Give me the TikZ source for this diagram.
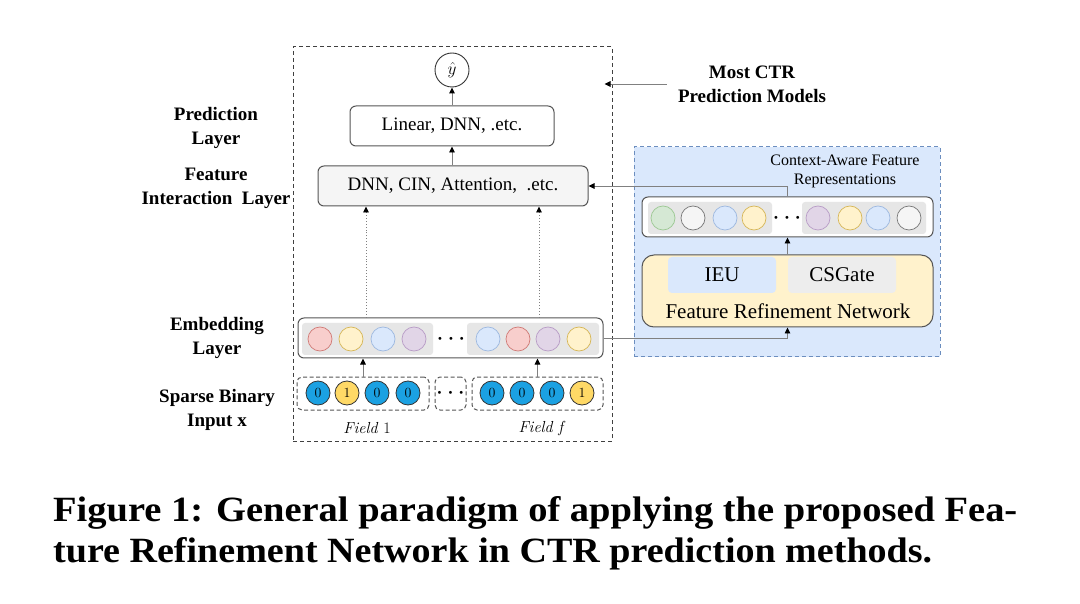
\documentclass[tikz,border=0pt]{standalone}
\usepackage{fontspec}
\newfontfamily\tnr{Liberation Serif}
\usetikzlibrary{arrows.meta}
\definecolor{rF}{HTML}{F8CECC}\definecolor{rD}{HTML}{D07A76}
\definecolor{yF}{HTML}{FFF2CC}\definecolor{yD}{HTML}{D6B656}
\definecolor{bF}{HTML}{DAE8FC}\definecolor{bD}{HTML}{9DB8E0}
\definecolor{pF}{HTML}{E1D5E7}\definecolor{pD}{HTML}{B89CC6}
\definecolor{gF}{HTML}{D5E8D4}\definecolor{gD}{HTML}{9CC893}
\definecolor{wF}{HTML}{F5F5F5}\definecolor{wD}{HTML}{777777}
\definecolor{binB}{HTML}{1BA1E2}\definecolor{binY}{HTML}{FFD966}
\definecolor{areaG}{HTML}{E6E6E6}
\definecolor{blueBox}{HTML}{DAE8FC}\definecolor{blueDash}{HTML}{6C8EBF}
\definecolor{edge}{HTML}{555555}
\begin{document}
\begin{tikzpicture}[x=1pt,y=-1pt,
  emb/.style={circle,minimum size=24pt,inner sep=0pt,line width=0.7pt},
  cr/.style={emb,fill=rF,draw=rD},
  cy/.style={emb,fill=yF,draw=yD},
  cb/.style={emb,fill=bF,draw=bD},
  cp/.style={emb,fill=pF,draw=pD},
  cg/.style={emb,fill=gF,draw=gD},
  cw/.style={emb,fill=wF,draw=wD},
  bin/.style={circle,minimum size=24pt,inner sep=0pt,draw=black!80,line width=0.8pt,font=\fontsize{14}{14}\selectfont},
  bb/.style={bin,fill=binB},
  by/.style={bin,fill=binY},
  area/.style={fill=areaG,rounded corners=3pt,inner sep=0pt},
  box/.style={draw=edge,rounded corners=6pt,line width=1pt,inner sep=0pt,font=\tnr\fontsize{19}{19}\selectfont},
  inbox/.style={draw=edge,dashed,dash pattern=on 4pt off 2.5pt,rounded corners=5pt,line width=1pt,inner sep=0pt,minimum height=33pt},
  lab/.style={font=\tnr\bfseries\fontsize{19}{24}\selectfont,align=center},
  conn/.style={draw=gray,line width=0.9pt,-{Triangle[length=6pt,width=5.5pt,color=black]}},
  dotconn/.style={conn,dotted},
  dots/.style={font=\fontsize{11}{11}\selectfont,inner sep=0pt}
]
\useasboundingbox (0,0) rectangle (1080,604);

% outer dashed box
\node[draw=black!75,dashed,dash pattern=on 4pt off 3pt,line width=1pt,minimum width=319pt,minimum height=394pt,inner sep=0pt] (outer) at (452.5,244) {};

% right blue box
\node[draw=blueDash,fill=blueBox,dashed,dash pattern=on 4pt off 3pt,line width=1pt,minimum width=306pt,minimum height=210pt,inner sep=0pt] (fbox) at (787,252) {};

% left labels
\node[lab] (lpred) at (216,128) {Prediction\\Layer};
\node[lab] (linter) at (216,188) {Feature\\Interaction~~Layer};
\node[lab] (lemb) at (217,338) {Embedding\\Layer};
\node[lab] (lsparse) at (217,410) {Sparse Binary\\Input x};
\node[lab] (most) at (752,84) {Most CTR\\Prediction Models};

% top part
\node[circle,draw=black!80,line width=0.9pt,minimum size=34pt,inner sep=0pt,font=\fontsize{18}{18}\selectfont] (yhat) at (452,70) {$\hat{y}$};
\node[box,minimum width=204pt,minimum height=40pt] (lin) at (452,126) {Linear, DNN, .etc.};
\node[box,fill=wF,minimum width=270pt,minimum height=40pt] (dnn) at (453,186) {DNN, CIN, Attention,\ \ .etc.};

% embedding layer
\node[box,fill=white,minimum width=305pt,minimum height=40pt] (emb) at (450.5,338) {};
\node[area,minimum width=131pt,minimum height=32pt] (gL) at (367.5,339) {};
\node[area,minimum width=132pt,minimum height=32pt] (gR) at (533,339) {};
\node[cr] (e1) at (320,339) {};
\node[cy] (e2) at (351,339) {};
\node[cb] (e3) at (383,339) {};
\node[cp] (e4) at (414,339) {};
\node[dots] (edots) at (451,339) {\textbullet\hspace{2.5pt}\textbullet\hspace{2.5pt}\textbullet};
\node[cb] (e5) at (488,339) {};
\node[cr] (e6) at (518,339) {};
\node[cp] (e7) at (548,339) {};
\node[cy] (e8) at (579,339) {};

% sparse input
\node[inbox,minimum width=132pt] (inL) at (363,393.5) {};
\node[inbox,minimum width=31pt] (inM) at (450.5,393.5) {};
\node[inbox,minimum width=131pt] (inR) at (537.5,393.5) {};
\node[bb] (b1) at (318,393) {0};
\node[by] (b2) at (347,393) {1};
\node[bb] (b3) at (377,393) {0};
\node[bb] (b4) at (408,393) {0};
\node[dots] (bdots) at (450.5,393) {\textbullet\hspace{2.5pt}\textbullet\hspace{2.5pt}\textbullet};
\node[bb] (b5) at (492,393) {0};
\node[bb] (b6) at (522,393) {0};
\node[bb] (b7) at (552,393) {0};
\node[by] (b8) at (582,393) {1};
\node[font=\fontsize{16}{16}\selectfont] (f1) at (367,428) {\textit{Field} 1};
\node[font=\fontsize{16}{16}\selectfont] (ff) at (542,428) {\textit{Field f}};

% right side
\node[font=\tnr\fontsize{16}{19}\selectfont,align=center] (ctxlab) at (845,171) {Context-Aware Feature\\Representations};
\node[box,fill=white,minimum width=291pt,minimum height=40pt] (ctx) at (787.5,217) {};
\node[area,minimum width=124pt,minimum height=32pt] (cL) at (710,218) {};
\node[area,minimum width=124pt,minimum height=32pt] (cR) at (864,218) {};
\node[cg] (c1) at (663,218) {};
\node[cw] (c2) at (693,218) {};
\node[cb] (c3) at (725,218) {};
\node[cy] (c4) at (754,218) {};
\node[dots] (cdots) at (787,218) {\textbullet\hspace{2.5pt}\textbullet\hspace{2.5pt}\textbullet};
\node[cp] (c5) at (818,218) {};
\node[cy] (c6) at (850,218) {};
\node[cb] (c7) at (878,218) {};
\node[cw] (c8) at (909,218) {};

\node[box,fill=yF,rounded corners=12pt,minimum width=291pt,minimum height=72pt] (frn) at (787.5,291) {};
\node[fill=bF,rounded corners=4pt,minimum width=108pt,minimum height=36pt,inner sep=0pt,font=\tnr\fontsize{21}{21}\selectfont] (ieu) at (722,275) {IEU};
\node[fill=areaG!70,rounded corners=4pt,minimum width=108pt,minimum height=36pt,inner sep=0pt,font=\tnr\fontsize{21}{21}\selectfont] (csg) at (842,275) {CSGate};
\node[font=\tnr\fontsize{21}{21}\selectfont,inner sep=0pt] (frnlab) at (788,311) {Feature Refinement Network};

% connectors
\draw[conn] (lin.north) -- (yhat.south);
\draw[conn] (dnn.north -| lin.north) -- (lin.south);
\draw[dotconn] (emb.north -| 366,0) -- (dnn.south -| 366,0);
\draw[dotconn] (emb.north -| 539,0) -- (dnn.south -| 539,0);
\draw[conn] (inL.north) -- (inL.north |- emb.south);
\draw[conn] (inR.north) -- (inR.north |- emb.south);
\draw[conn] (frn.north) -- (ctx.south);
\draw[conn] (ctx.north) |- (dnn.east);
\draw[conn] (emb.east) -| (frn.south);
\draw[conn] ([xshift=-8pt]most.west) -- ([xshift=-8pt]most.west -| outer.east);

% caption
\node[anchor=base west,inner sep=0pt] (cap1) at (53,521) {\resizebox{964pt}{25pt}{\tnr\bfseries Figure 1: General paradigm of applying the proposed Fea-}};
\node[anchor=base west,inner sep=0pt] (cap2) at (53,562) {\resizebox{879pt}{25pt}{\tnr\bfseries ture Refinement Network in CTR prediction methods.}};
\end{tikzpicture}
\end{document}
